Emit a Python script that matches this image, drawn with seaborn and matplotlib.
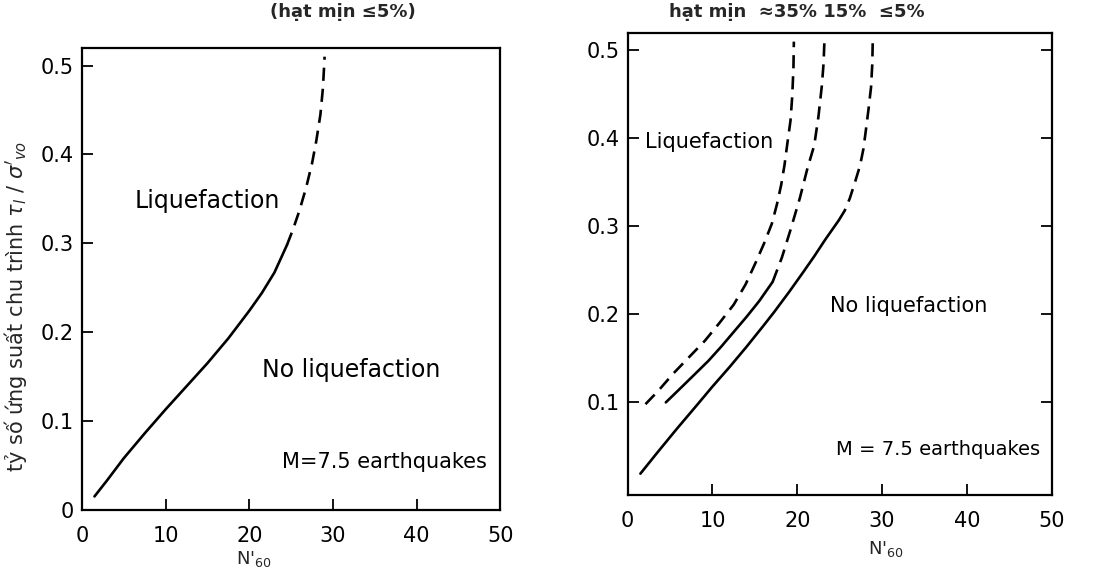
import matplotlib
matplotlib.use("Agg")
import matplotlib.pyplot as plt
import seaborn as sns
import pandas as pd

# ---- data ----
# left panel: fines <= 5%
L5_solid_x = [1.5, 3.0, 5.0, 7.5, 10.0, 12.5, 15.0, 17.5, 20.0, 21.5, 23.0, 24.5]
L5_solid_y = [0.015, 0.033, 0.058, 0.086, 0.113, 0.139, 0.165, 0.193, 0.224, 0.244, 0.267, 0.298]
L5_dash_x = [24.5, 25.2, 26.0, 26.8, 27.5, 28.0, 28.5, 28.8, 29.0]
L5_dash_y = [0.298, 0.315, 0.337, 0.363, 0.390, 0.415, 0.445, 0.475, 0.510]

# right panel: fines <= 5%
R5_solid_x = [1.5, 3.5, 5.8, 8.0, 10.0, 12.0, 14.0, 16.0, 17.3, 19.0, 20.7, 22.0, 23.3, 24.9]
R5_solid_y = [0.019, 0.043, 0.070, 0.095, 0.118, 0.140, 0.163, 0.187, 0.203, 0.225, 0.248, 0.266, 0.285, 0.307]
R5_dash_x = [24.9, 25.6, 26.2, 26.8, 27.4, 27.8, 28.1, 28.4, 28.7, 28.85, 28.9]
R5_dash_y = [0.307, 0.318, 0.332, 0.350, 0.369, 0.388, 0.410, 0.433, 0.458, 0.485, 0.510]

# right panel: fines 15%
R15_solid_x = [4.5, 6.0, 7.7, 9.5, 11.0, 12.5, 14.0, 15.5, 17.1]
R15_solid_y = [0.100, 0.114, 0.130, 0.147, 0.163, 0.180, 0.197, 0.215, 0.237]
R15_dash_x = [17.1, 18.2, 19.2, 20.3, 21.2, 22.0, 22.5, 22.9, 23.1, 23.2]
R15_dash_y = [0.237, 0.265, 0.296, 0.332, 0.366, 0.392, 0.425, 0.460, 0.485, 0.510]

# right panel: fines 35%
R35_dash_x = [2.1, 3.5, 5.4, 7.2, 9.1, 10.8, 12.5, 13.9, 15.1, 16.1, 17.0, 17.6,
              18.1, 18.5, 18.8, 19.2, 19.4, 19.55, 19.6]
R35_dash_y = [0.098, 0.112, 0.133, 0.151, 0.170, 0.190, 0.211, 0.234, 0.259, 0.281, 0.303, 0.325,
              0.347, 0.370, 0.392, 0.420, 0.447, 0.480, 0.510]

x_ticks = [0, 10, 20, 30, 40, 50]
y_ticks_left = [0, 0.1, 0.2, 0.3, 0.4, 0.5]
y_ticks_right = [0.1, 0.2, 0.3, 0.4, 0.5]
y_ticklabels_left = ["0", "0.1", "0.2", "0.3", "0.4", "0.5"]
y_ticklabels_right = ["0.1", "0.2", "0.3", "0.4", "0.5"]

title_left = "(hạt mịn ≤5%)"
title_right = "hạt mịn  ≈35% 15%  ≤5%"
ylabel = r"tỷ số ứng suất chu trình $\tau_l$ / $\sigma'_{vo}$"
xlabel = r"N'$_{60}$"

sns.set_style("ticks")
plt.rcParams['font.family'] = ['DejaVu Sans']

fig = plt.figure(figsize=(11.07, 5.76), dpi=100)
ax1 = fig.add_axes([0.074, 0.115, 0.378, 0.802])
ax2 = fig.add_axes([0.567, 0.141, 0.383, 0.802])

LW = 1.9
DASH = (5, 3)


def draw(ax, xs, ys, dashed):
    df = pd.DataFrame({"x": xs, "y": ys})
    if dashed:
        sns.lineplot(data=df, x="x", y="y", ax=ax, sort=False, color="black",
                     lw=LW, dashes=False, linestyle=(0, DASH))
    else:
        sns.lineplot(data=df, x="x", y="y", ax=ax, sort=False, color="black",
                     lw=LW)


draw(ax1, L5_solid_x, L5_solid_y, False)
draw(ax1, L5_dash_x, L5_dash_y, True)

draw(ax2, R5_solid_x, R5_solid_y, False)
draw(ax2, R5_dash_x, R5_dash_y, True)
draw(ax2, R15_solid_x, R15_solid_y, False)
draw(ax2, R15_dash_x, R15_dash_y, True)
draw(ax2, R35_dash_x, R35_dash_y, True)

for ax in (ax1, ax2):
    ax.set_xlim(0, 50)
    ax.set_xticks(x_ticks)
    ax.set_xlabel("")
    ax.set_ylabel("")
    for s in ax.spines.values():
        s.set_visible(True)
        s.set_linewidth(1.6)
        s.set_color("black")
    ax.tick_params(axis="both", direction="in", length=8, width=1.3,
                   labelsize=15, colors="black")
    ax.tick_params(axis="x", pad=12)
    ax.tick_params(axis="y", pad=6)

ax2.tick_params(axis="y", right=True)

ax1.set_ylim(0, 0.52)
ax1.set_yticks(y_ticks_left)
ax1.set_yticklabels(y_ticklabels_left)
ax2.set_ylim(-0.005, 0.52)
ax2.set_yticks(y_ticks_right)
ax2.set_yticklabels(y_ticklabels_right)

ax1.set_xlabel(xlabel, fontsize=13)
ax1.xaxis.set_label_coords(0.41, -0.085)
ax2.set_xlabel(xlabel, fontsize=13)
ax2.xaxis.set_label_coords(0.61, -0.095)

ax1.set_ylabel(ylabel, fontsize=15)
ax1.yaxis.set_label_coords(-0.127, 0.44)

txt = dict(ha="left", va="center", color="black")
ax1.text(6.3, 0.348, "Liquefaction", fontsize=17, **txt)
ax1.text(21.5, 0.157, "No liquefaction", fontsize=17, **txt)
ax1.text(23.9, 0.054, "M=7.5 earthquakes", fontsize=15, **txt)

ax2.text(2.0, 0.396, "Liquefaction", fontsize=15, **txt)
ax2.text(23.9, 0.210, "No liquefaction", fontsize=15, **txt)
ax2.text(24.6, 0.046, "M = 7.5 earthquakes", fontsize=14, **txt)

fig.text(343 / 1107, 1 - 12 / 576, title_left, fontsize=13, fontweight="bold",
         ha="center", va="center")
fig.text(797 / 1107, 1 - 12 / 576, title_right, fontsize=13, fontweight="bold",
         ha="center", va="center")

fig.savefig("out.png", dpi=100, facecolor="white")
